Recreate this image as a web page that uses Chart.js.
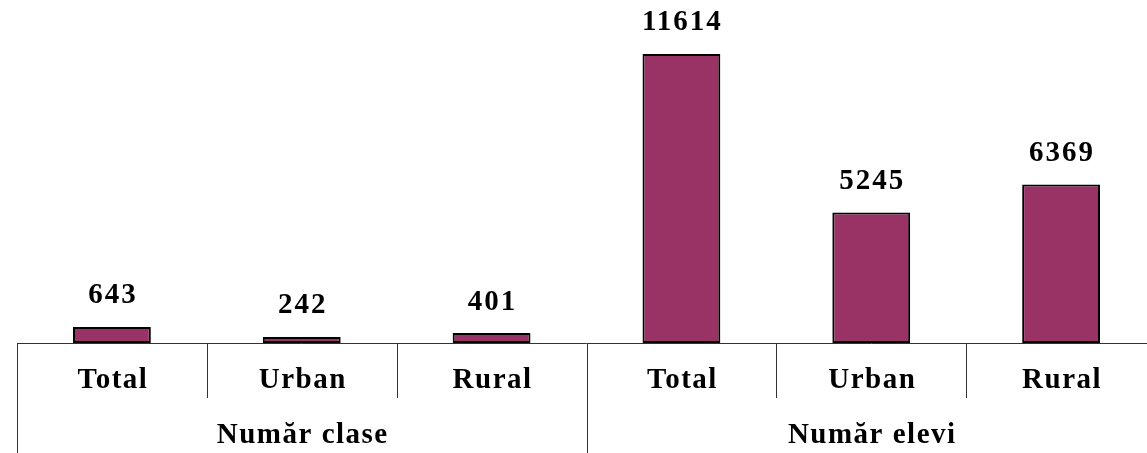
<!DOCTYPE html>
<html>
<head>
<meta charset="utf-8">
<script src="https://cdn.jsdelivr.net/npm/chart.js@4/dist/chart.umd.min.js"></script>
<style>
  html, body { margin: 0; padding: 0; background: #fff; overflow: hidden; }
  #wrap { width: 1147px; height: 453px; overflow: hidden; }
</style>
</head>
<body>
<div id="wrap"><canvas id="myChart" width="1160" height="453"></canvas></div>
<script>
const categories = ['Total', 'Urban', 'Rural', 'Total', 'Urban', 'Rural'];
const groups = ['Număr clase', 'Număr elevi'];
const groupSize = 3;
const values = [643, 242, 401, 11614, 5245, 6369];

const FONT = '"Liberation Serif", "Times New Roman", serif';

// draws value labels and the two-level category axis from the x scale
const axisPlugin = {
  id: 'axisPlugin',
  afterDatasetsDraw(chart) {
    const ctx = chart.ctx;
    const x = chart.scales.x;
    const area = chart.chartArea;
    const meta = chart.getDatasetMeta(0);
    const h = chart.height;
    const step = x.getPixelForValue(1) - x.getPixelForValue(0);

    ctx.save();
    ctx.fillStyle = '#000';
    ctx.textAlign = 'center';
    ctx.textBaseline = 'middle';
    ctx.font = 'bold 29px ' + FONT;
    ctx.letterSpacing = '2px';
    meta.data.forEach((bar, i) => {
      ctx.fillText(String(values[i]), bar.x + 1, bar.y - 31);
    });

    // axis lines
    ctx.strokeStyle = '#333';
    ctx.lineWidth = 1;
    ctx.beginPath();
    ctx.moveTo(area.left, area.bottom + 0.5);
    ctx.lineTo(area.right, area.bottom + 0.5);
    for (let i = 0; i <= categories.length; i++) {
      const px = Math.round(x.getPixelForValue(i) - step / 2) + 0.5;
      const full = i % groupSize === 0;
      ctx.moveTo(px, area.bottom);
      ctx.lineTo(px, full ? h : area.bottom + 55);
    }
    ctx.stroke();

    ctx.letterSpacing = '1.5px';
    categories.forEach((c, i) => {
      ctx.fillText(c, x.getPixelForValue(i) + 1, area.bottom + 38);
    });
    groups.forEach((g, gi) => {
      const a = x.getPixelForValue(gi * groupSize);
      const b = x.getPixelForValue(gi * groupSize + groupSize - 1);
      ctx.fillText(g, (a + b) / 2 + 1, area.bottom + 93);
    });
    ctx.restore();
  }
};

const ctx = document.getElementById('myChart').getContext('2d');
new Chart(ctx, {
  type: 'bar',
  data: {
    labels: categories,
    datasets: [{
      data: values,
      backgroundColor: '#993366',
      borderColor: '#000',
      borderWidth: 2,
      borderSkipped: false,
      barPercentage: 0.41,
      categoryPercentage: 1
    }]
  },
  options: {
    responsive: false,
    animation: false,
    layout: { padding: { left: 17, right: 4, top: 0, bottom: 110 } },
    plugins: { legend: { display: false }, tooltip: { enabled: false } },
    scales: {
      x: { display: false },
      y: { display: false, min: 0, max: 13780 }
    }
  },
  plugins: [axisPlugin]
});
</script>
</body>
</html>
